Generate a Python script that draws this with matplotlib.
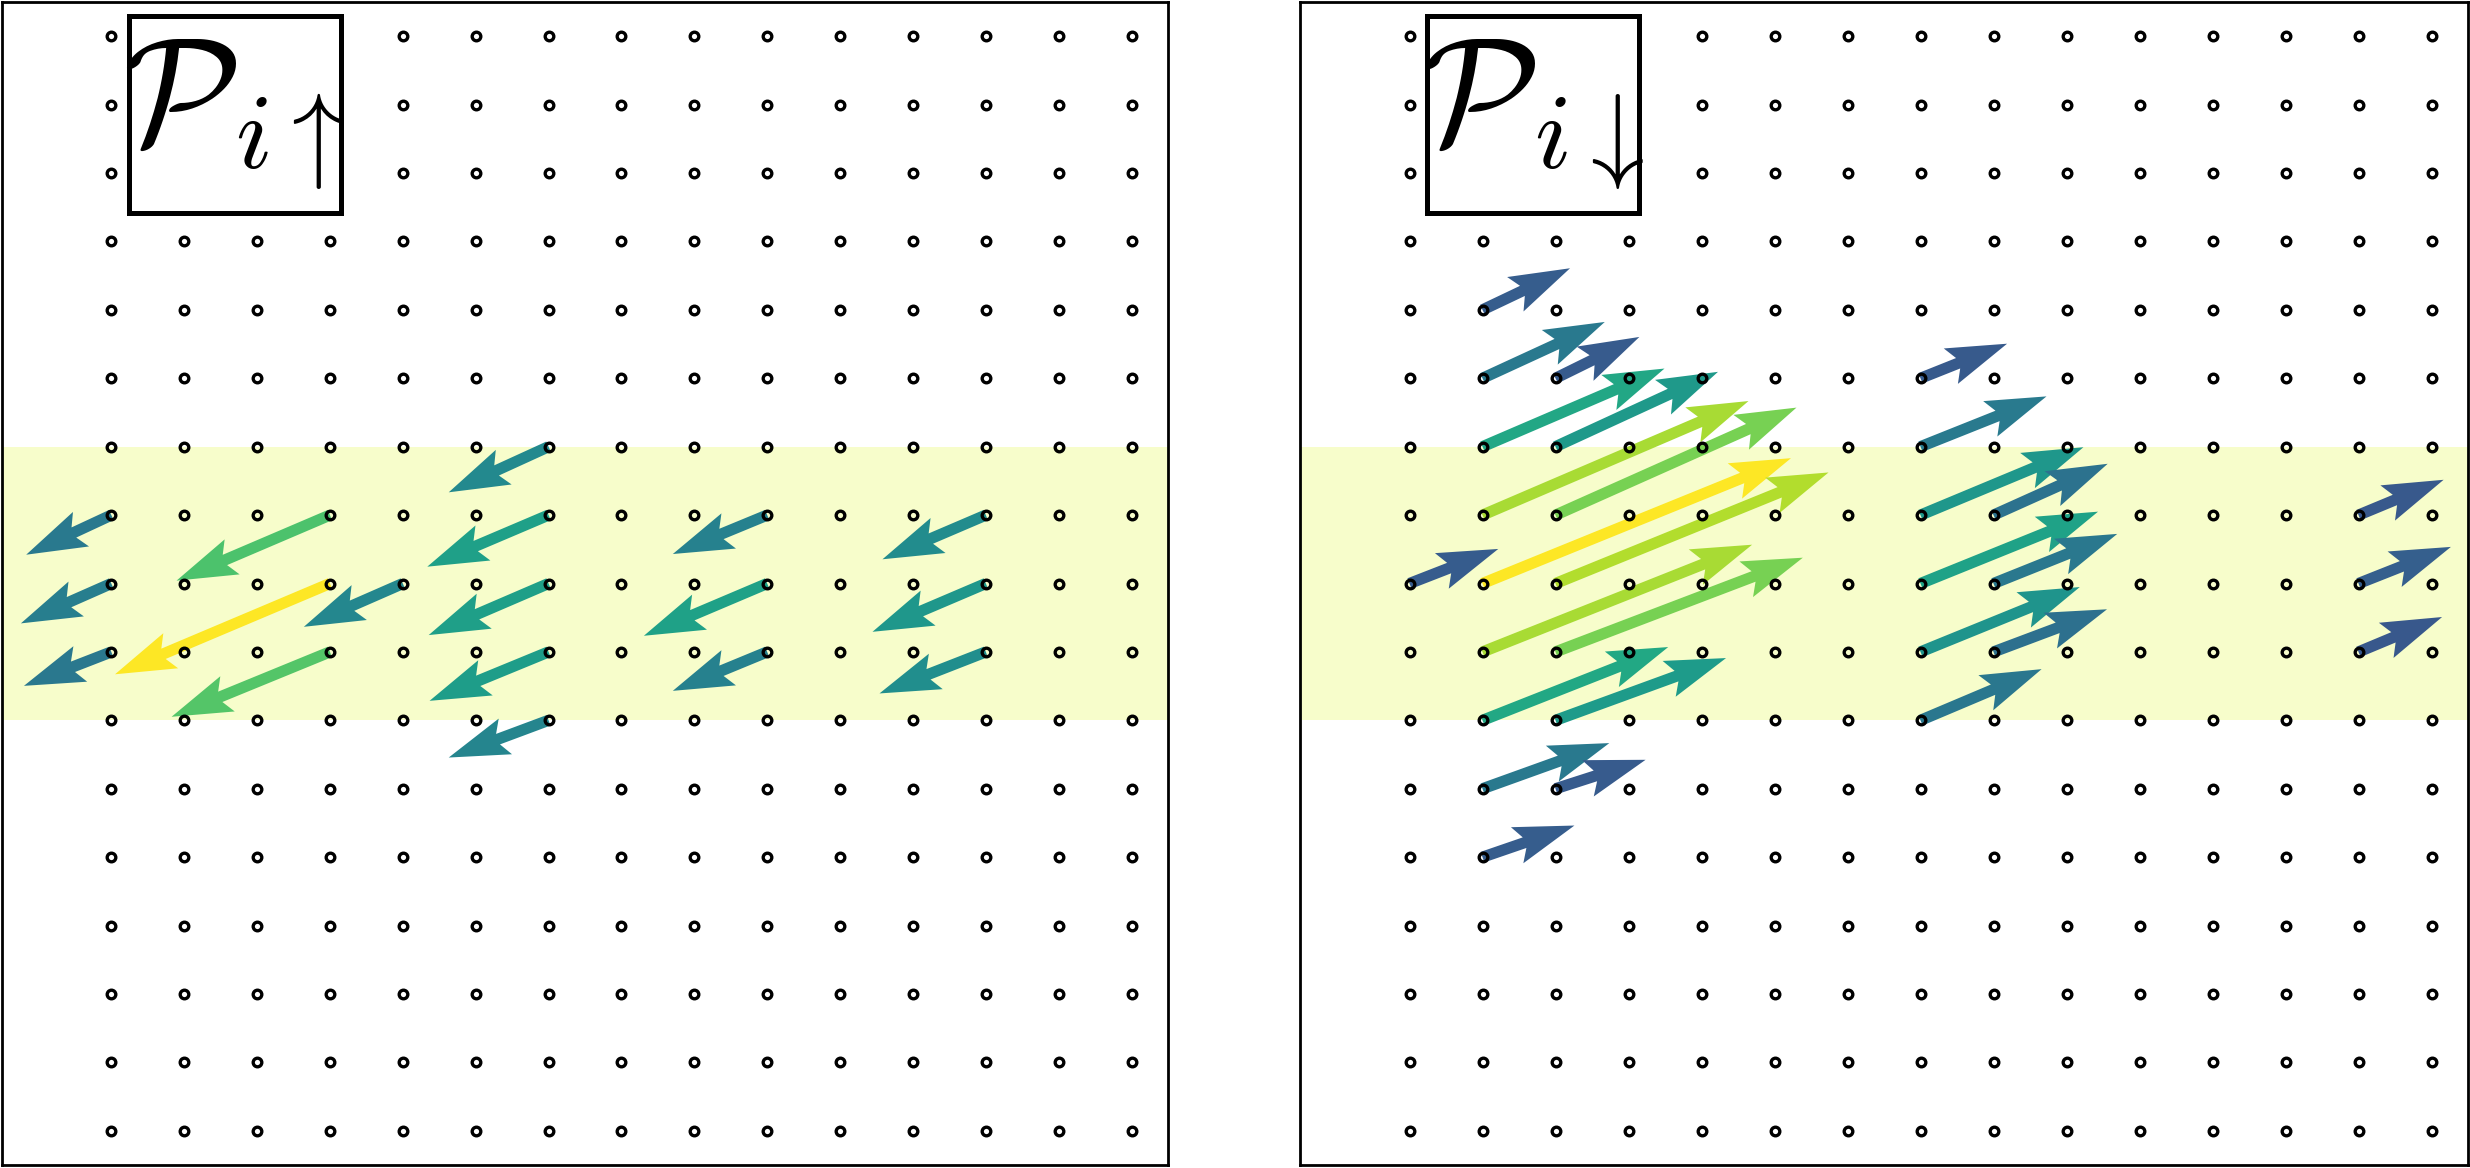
import numpy as np
import matplotlib
matplotlib.use('Agg')
import matplotlib.pyplot as plt
from matplotlib.patches import Rectangle
from matplotlib.colors import Normalize

plt.rcParams['mathtext.fontset'] = 'cm'

# lattice sites
grid_x = np.arange(1, 16)
grid_y = np.arange(0, 17)
band = (6, 10)

# panel 1 : P_{i up}
up_x = [1, 1, 1, 4, 4, 4, 5, 7, 7, 7, 7, 7, 10, 10, 10, 13, 13, 13]
up_y = [9, 8, 7, 9, 8, 7, 8, 10, 9, 8, 7, 6, 9, 8, 7, 9, 8, 7]
up_u = [-1.168, -1.241, -1.199, -2.105, -2.949, -2.173, -1.358, -1.370, -1.664, -1.645,
        -1.633, -1.370, -1.295, -1.692, -1.295, -1.418, -1.555, -1.459]
up_v = [-0.579, -0.583, -0.496, -0.958, -1.327, -0.948, -0.633, -0.667, -0.754, -0.754,
        -0.715, -0.544, -0.569, -0.764, -0.569, -0.646, -0.706, -0.607]

# panel 2 : P_{i down}
dn_x = [2, 2, 3, 2, 3, 2, 3, 1, 2, 3, 2, 3, 2, 3, 2, 3, 2,
        8, 8, 8, 9, 8, 9, 8, 9, 8, 14, 14, 14]
dn_y = [12, 11, 11, 10, 10, 9, 9, 8, 8, 8, 7, 7, 6, 6, 5, 5, 4,
        11, 10, 9, 9, 8, 8, 7, 7, 6, 9, 8, 7]
dn_u = [1.199, 1.675, 1.149, 2.493, 2.226, 3.644, 3.301, 1.216, 4.226, 3.740, 3.693, 3.388,
        2.544, 2.336, 1.737, 1.234, 1.259,
        1.186, 1.726, 2.232, 1.564, 2.432, 1.695, 2.182, 1.555, 1.659, 1.166, 1.266, 1.145]
dn_v = [0.608, 0.823, 0.604, 1.142, 1.094, 1.667, 1.571, 0.505, 1.832, 1.623, 1.567, 1.377,
        1.071, 0.910, 0.667, 0.423, 0.462,
        0.505, 0.735, 0.992, 0.750, 1.050, 0.725, 0.948, 0.623, 0.748, 0.516, 0.535, 0.510]

labels = [r'$\mathcal{P}_{i\uparrow}$', r'$\mathcal{P}_{i\downarrow}$']

fig = plt.figure(figsize=(24.7, 11.68), dpi=100)
ax1 = fig.add_axes([2 / 2470, 3 / 1168, 1166 / 2470, 1163 / 1168])
ax2 = fig.add_axes([1300 / 2470, 3 / 1168, 1168 / 2470, 1163 / 1168])


def draw(ax, X, Y, U, V, label):
    ax.set_xlim(-0.5, 15.5)
    ax.set_ylim(-0.5, 16.5)
    ax.axhspan(band[0], band[1], color='#f7fdcb', zorder=0, lw=0)
    U = np.asarray(U)
    V = np.asarray(V)
    C = np.hypot(U, V)
    ax.quiver(X, Y, U, V, C, cmap='viridis', norm=Normalize(0, C.max()),
              angles='xy', scale_units='xy', scale=1, width=0.0096,
              headwidth=3.4, headlength=5.4, headaxislength=4.7, zorder=2)
    GX, GY = np.meshgrid(grid_x, grid_y)
    ax.plot(GX.ravel(), GY.ravel(), 'o', ms=6.2, mfc='none', mec='k', mew=2.4,
            ls='none', zorder=3)
    ax.add_patch(Rectangle((0.1086, 0.8188), 0.1818, 0.1694, transform=ax.transAxes,
                           fc='white', ec='black', lw=3.6, zorder=4))
    ax.text(0.1995, 0.9033, label, transform=ax.transAxes, ha='center', va='center',
            fontsize=110, zorder=5)
    ax.set_xticks([])
    ax.set_yticks([])
    for s in ax.spines.values():
        s.set_linewidth(2)


draw(ax1, up_x, up_y, up_u, up_v, labels[0])
draw(ax2, dn_x, dn_y, dn_u, dn_v, labels[1])

fig.savefig('out.png', dpi=100)
